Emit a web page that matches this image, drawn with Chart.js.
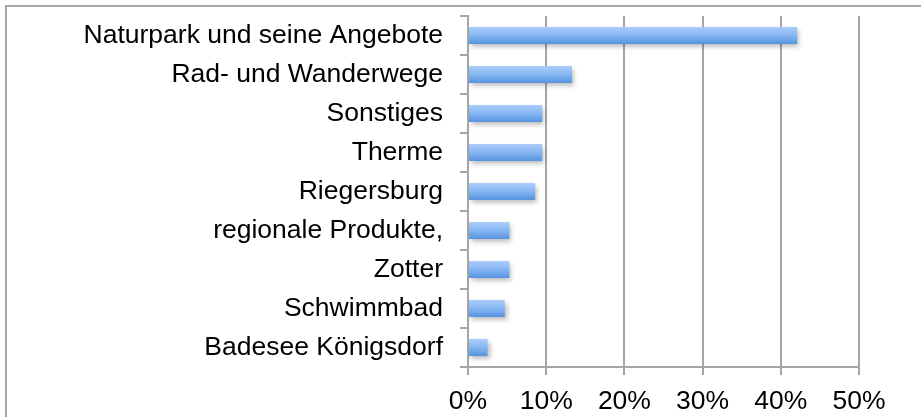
<!DOCTYPE html>
<html>
<head>
<meta charset="utf-8">
<script src="https://cdn.jsdelivr.net/npm/chart.js@4/dist/chart.umd.min.js"></script>
<style>
  html, body { margin: 0; padding: 0; background: #ffffff; }
</style>
</head>
<body>
<canvas id="grafico" width="921" height="417"></canvas>
<script>
// categorias (de cima para baixo) e valores em %
const categorias = [
  "Naturpark und seine Angebote",
  "Rad- und Wanderwege",
  "Sonstiges",
  "Therme",
  "Riegersburg",
  "regionale Produkte,",
  "Zotter",
  "Schwimmbad",
  "Badesee Königsdorf"
];
const valores = [42.1, 13.3, 9.5, 9.5, 8.6, 5.3, 5.3, 4.7, 2.5];
const ticksX = [0, 10, 20, 30, 40, 50];

const cinza = "#a5a5a5";
const fonte = "'Liberation Sans', Arial, sans-serif";

// moldura externa + sombra das barras
const moldura = {
  id: "moldura",
  beforeDraw(chart) {
    const ctx = chart.ctx;
    ctx.save();
    ctx.strokeStyle = "#a8a8a8";
    ctx.lineWidth = 2;
    ctx.strokeRect(6, 6, 940, 440);
    ctx.restore();
  },
  beforeDatasetsDraw(chart) {
    const ctx = chart.ctx;
    ctx.save();
    ctx.shadowColor = "rgba(0,0,0,0.28)";
    ctx.shadowBlur = 5;
    ctx.shadowOffsetX = 2;
    ctx.shadowOffsetY = 3;
  },
  afterDatasetsDraw(chart) {
    chart.ctx.restore();
  }
};

function gradiente(context) {
  const chart = context.chart;
  const y = chart.scales.y;
  if (!y || context.dataIndex === undefined) return "#7fb0ee";
  const centro = y.getPixelForValue(context.dataIndex);
  const h = (y.height / categorias.length) * 0.44 / 2;
  if (!isFinite(centro) || !isFinite(h)) return "#7fb0ee";
  const g = chart.ctx.createLinearGradient(0, centro - h, 0, centro + h);
  g.addColorStop(0, "#abcdfb");
  g.addColorStop(0.5, "#86b6f2");
  g.addColorStop(1, "#5592de");
  return g;
}

const ctx = document.getElementById("grafico").getContext("2d");
new Chart(ctx, {
  type: "bar",
  data: {
    labels: categorias,
    datasets: [
      {
        data: valores,
        backgroundColor: gradiente,
        borderWidth: 0,
        barPercentage: 0.44,
        categoryPercentage: 1
      }
    ]
  },
  options: {
    indexAxis: "y",
    responsive: false,
    animation: false,
    layout: { padding: { top: 16, right: 62, left: 0, bottom: 0 } },
    plugins: {
      legend: { display: false },
      tooltip: { enabled: false }
    },
    scales: {
      x: {
        min: 0,
        max: 50,
        afterBuildTicks: (scale) => {
          scale.ticks = ticksX.map((v) => ({ value: v }));
        },
        afterFit: (scale) => {
          scale.height = 50;
          scale.paddingLeft = 0;
          scale.paddingRight = 0;
        },
        grid: { color: cinza, lineWidth: 2, tickLength: 8 },
        border: { color: cinza, width: 2 },
        ticks: {
          color: "#000000",
          font: { family: fonte, size: 26.5 },
          padding: 11,
          maxRotation: 0,
          callback: (v) => v + "%"
        }
      },
      y: {
        afterFit: (scale) => {
          scale.width = 468;
          scale.paddingTop = 0;
          scale.paddingBottom = 0;
        },
        grid: { drawOnChartArea: false, color: cinza, lineWidth: 2, tickLength: 8, offset: true },
        border: { color: cinza, width: 2 },
        ticks: {
          color: "#000000",
          font: { family: fonte, size: 26.5 },
          padding: 17,
          autoSkip: false
        }
      }
    }
  },
  plugins: [moldura]
});
</script>
</body>
</html>
